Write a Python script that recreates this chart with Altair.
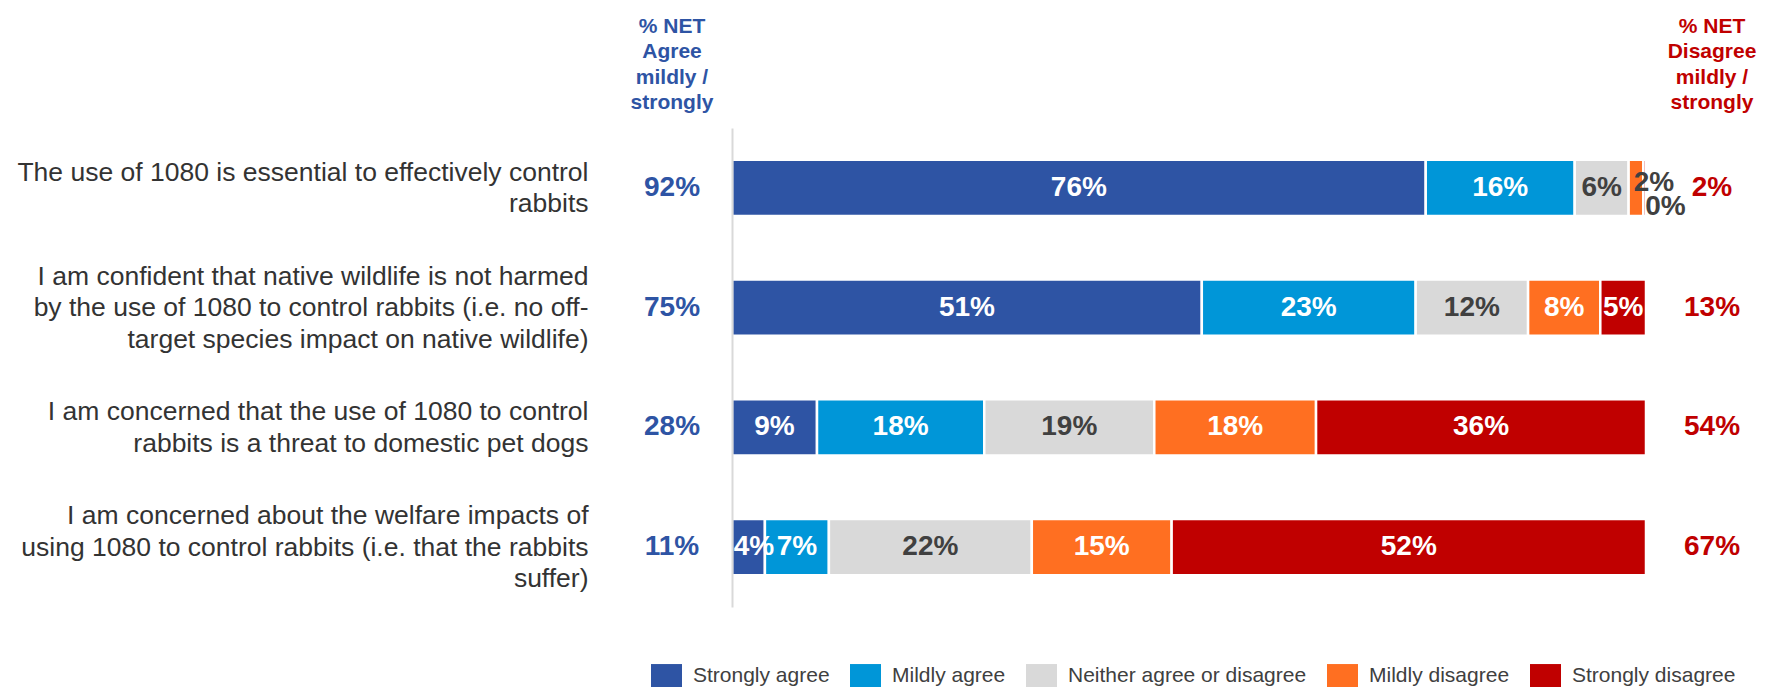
import altair as alt
import pandas as pd

# ---- data ----
questions = [
    ["The use of 1080 is essential to effectively control", "rabbits"],
    ["I am confident that native wildlife is not harmed",
     "by the use of 1080 to control rabbits (i.e. no off-",
     "target species impact on native wildlife)"],
    ["I am concerned that the use of 1080 to control",
     "rabbits is a threat to domestic pet dogs"],
    ["I am concerned about the welfare impacts of",
     "using 1080 to control rabbits (i.e. that the rabbits",
     "suffer)"],
]
responses = ["Strongly agree", "Mildly agree", "Neither agree or disagree",
             "Mildly disagree", "Strongly disagree"]
strongly_agree = [75.9, 51.4, 9.3, 3.6]
mildly_agree = [16.3, 23.4, 18.3, 7.0]
neither = [5.9, 12.3, 18.6, 22.2]
mildly_disagree = [1.6, 7.9, 17.7, 15.3]
strongly_disagree = [0.3, 5.0, 36.1, 51.9]
net_agree = [92, 75, 28, 11]
net_disagree = [2, 13, 54, 67]
colors = ["#2E54A4", "#0096D8", "#D9D9D9", "#FF6F21", "#C00000"]
agree_header = ["% NET", "Agree", "mildly /", "strongly"]
disagree_header = ["% NET", "Disagree", "mildly /", "strongly"]

BLUE = "#2E54A4"
RED = "#C00000"
DARK = "#404040"

qkeys = ["|".join(q) for q in questions]
series = [strongly_agree, mildly_agree, neither, mildly_disagree, strongly_disagree]
rows = []
for qi, q in enumerate(qkeys):
    for ri, r in enumerate(responses):
        rows.append({"question": q, "response": r, "order": ri, "value": series[ri][qi]})
df = pd.DataFrame(rows)
net_df = pd.DataFrame({"question": qkeys, "agree": net_agree, "disagree": net_disagree})

H = 479
LH = 31.5
yscale = alt.Scale(paddingInner=0.53, paddingOuter=0.265)

# ---- left panel: NET agree + question labels ----
yA = alt.Y("question:N", sort=qkeys, scale=yscale, title=None,
           axis=alt.Axis(labelExpr="split(datum.label, '|')", labelFontSize=26.5,
                         labelLineHeight=LH, labelColor="#333333", labelLimit=800,
                         labelPadding=31, ticks=False, domain=False,
                         labelAlign="right", labelBaseline="middle",
                         labelOffset={"condition": {"test": "length(split(datum.label, '|')) >= 3",
                                                    "value": -LH},
                                      "value": -LH / 2}))
title_kw = dict(fontSize=21, fontWeight="bold", lineHeight=25.5,
                anchor="middle", frame="group", offset=15)
panelA = alt.Chart(net_df, title=alt.TitleParams(text=agree_header, color=BLUE, **title_kw)
                   ).transform_calculate(lbl="datum.agree + '%'").mark_text(
    fontSize=28, fontWeight="bold", color=BLUE).encode(
    y=yA, text="lbl:N").properties(width=106, height=H)

# ---- middle panel: stacked bars ----
yB = alt.Y("question:N", sort=qkeys, scale=yscale, title=None,
           axis=alt.Axis(labels=False, ticks=False, domainColor="#D9D9D9",
                         domainWidth=2, zindex=1))
xs = alt.Scale(domain=[0, 100], nice=False)
base = alt.Chart(df).transform_stack(
    stack="value", groupby=["question"], as_=["x0", "x1"],
    sort=[alt.SortField("order", "ascending")]
).transform_calculate(
    mid="max((datum.x0 + datum.x1) / 2, 2.4)",
    label="format(datum.value, '.0f') + '%'",
    tcolor=f"(datum.response == 'Neither agree or disagree' || datum.value < 3) ? '{DARK}' : 'white'",
)
bars = base.mark_bar(stroke="white", strokeWidth=2.5).encode(
    x=alt.X("x0:Q", scale=xs, axis=None),
    x2="x1:Q",
    y=yB,
    color=alt.Color("response:N", scale=alt.Scale(domain=responses, range=colors),
                    legend=alt.Legend(title=None, orient="none", direction="horizontal",
                                      columns=5, legendX=32, legendY=532,
                                      symbolType="M-1,-0.74L1,-0.74L1,0.74L-1,0.74Z",
                                      symbolSize=961, symbolStrokeWidth=0,
                                      labelFontSize=21, labelColor=DARK, labelOffset=11,
                                      labelLimit=400, columnPadding=20)),
)
big_text = base.transform_filter("datum.value >= 3").mark_text(
    fontSize=28, fontWeight="bold").encode(
    x=alt.X("mid:Q", scale=xs, axis=None), y=yB, text="label:N",
    color=alt.Color("tcolor:N", scale=None))
small_md = base.transform_filter(
    "datum.value < 3 && datum.response == 'Mildly disagree'").mark_text(
    fontSize=28, fontWeight="bold", align="left", dx=5, dy=-5, color=DARK).encode(
    x=alt.X("x0:Q", scale=xs, axis=None), y=yB, text="label:N")
small_sd = base.transform_filter(
    "datum.value < 3 && datum.response == 'Strongly disagree'").mark_text(
    fontSize=28, fontWeight="bold", align="left", dx=2, dy=19, color=DARK).encode(
    x=alt.X("x0:Q", scale=xs, axis=None), y=yB, text="label:N")
panelB = alt.layer(bars, big_text, small_md, small_sd).properties(width=914, height=H)

# ---- right panel: NET disagree ----
yC = alt.Y("question:N", sort=qkeys, scale=yscale, title=None, axis=None)
panelC = alt.Chart(net_df, title=alt.TitleParams(text=disagree_header, color=RED, **title_kw)
                   ).transform_calculate(lbl="datum.disagree + '%'").mark_text(
    fontSize=28, fontWeight="bold", color=RED).encode(
    y=yC, text="lbl:N").properties(width=90, height=H)

inner = alt.hconcat(panelB, panelC, spacing=21, bounds="flush")
chart = alt.hconcat(panelA, inner, spacing=7, bounds="flush").properties(
    padding={"left": 8, "top": 7, "right": 0, "bottom": 0}
).configure(font="Liberation Sans").configure_view(stroke=None)

chart.save("out.html", embed_options={"renderer": "svg", "actions": False})
